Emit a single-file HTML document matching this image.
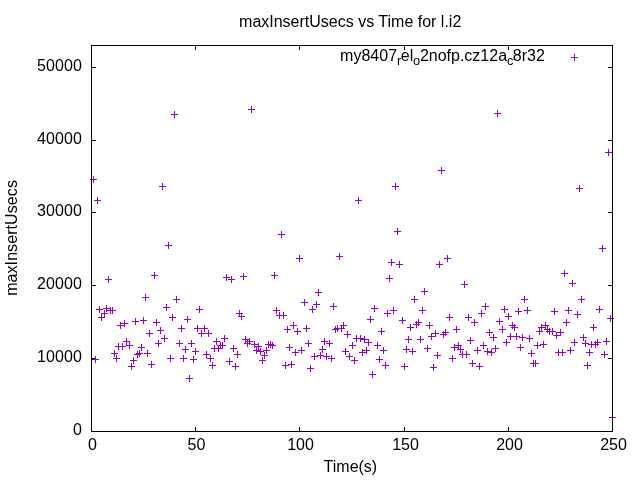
<!DOCTYPE html>
<html><head><meta charset="utf-8"><title>maxInsertUsecs vs Time for l.i2</title>
<style>
html,body{margin:0;padding:0;background:#fff;width:640px;height:480px;overflow:hidden}
svg{display:block;will-change:transform;transform:translateZ(0)}
text{font-family:"Liberation Sans",Arial,sans-serif;font-size:16px;fill:#000}
.ax{stroke:#000;stroke-width:1;fill:none}
.pt{stroke:#9400d3;stroke-width:1;fill:none;stroke-linecap:butt}
</style></head><body>
<svg width="640" height="480" viewBox="0 0 640 480">
<rect width="640" height="480" fill="#fff"/>
<g id="tics">
<path class="ax" d="M91.5 431.5h4.5M612.5 431.5h-4.5M91.5 358.5h4.5M612.5 358.5h-4.5M91.5 285.5h4.5M612.5 285.5h-4.5M91.5 212.5h4.5M612.5 212.5h-4.5M91.5 140.5h4.5M612.5 140.5h-4.5M91.5 67.5h4.5M612.5 67.5h-4.5M91.5 431.5v-4.5M91.5 45.5v4.5M195.5 431.5v-4.5M195.5 45.5v4.5M299.5 431.5v-4.5M299.5 45.5v4.5M404.5 431.5v-4.5M404.5 45.5v4.5M508.5 431.5v-4.5M508.5 45.5v4.5M612.5 431.5v-4.5M612.5 45.5v4.5"/>
</g>
<g id="ytics">
<text x="82.1" y="435.1" text-anchor="end" letter-spacing="0.14">0</text>
<text x="82.1" y="362.1" text-anchor="end" letter-spacing="0.14">10000</text>
<text x="82.1" y="289.1" text-anchor="end" letter-spacing="0.14">20000</text>
<text x="82.1" y="216.1" text-anchor="end" letter-spacing="0.14">30000</text>
<text x="82.1" y="144.1" text-anchor="end" letter-spacing="0.14">40000</text>
<text x="82.1" y="71.1" text-anchor="end" letter-spacing="0.14">50000</text>
</g>
<g id="xtics">
<text x="92.5" y="450.3" text-anchor="middle">0</text>
<text x="196.5" y="450.3" text-anchor="middle">50</text>
<text x="300.5" y="450.3" text-anchor="middle">100</text>
<text x="405.5" y="450.3" text-anchor="middle">150</text>
<text x="509.5" y="450.3" text-anchor="middle">200</text>
<text x="613.5" y="450.3" text-anchor="middle">250</text>
</g>
<g id="labels">
<text x="350.2" y="27" text-anchor="middle">maxInsertUsecs vs Time for l.i2</text>
<text x="350.4" y="471.5" text-anchor="middle">Time(s)</text>
<text transform="translate(17.1,237.95) rotate(-90)" text-anchor="middle" letter-spacing="0.08">maxInsertUsecs</text>
<text><tspan x="340.11" y="60.9">my8407</tspan><tspan x="396.93" y="64.8" font-size="12.8px">r</tspan><tspan x="400.80" y="60.9">el</tspan><tspan x="412.95" y="64.8" font-size="12.8px">o</tspan><tspan x="419.88" y="60.9">2nofp.cz12a</tspan><tspan x="507.06" y="64.8" font-size="12.8px">c</tspan><tspan x="512.77" y="60.9">8r32</tspan></text>
</g>
<g id="data">
<path class="pt" d="M571 57.5h7M574.5 54v7"/>
<path class="pt" d="M90 179.5h7M93.5 176v7M92 359.5h7M95.5 356v7M94 200.5h7M97.5 197v7M96 309.5h7M99.5 306v7M98 317.5h7M101.5 314v7M101 313.5h7M104.5 310v7M103 308.5h7M106.5 305v7M105 279.5h7M108.5 276v7M107 310.5h7M110.5 307v7M109 310.5h7M112.5 307v7M111 353.5h7M114.5 350v7M113 358.5h7M116.5 355v7M115 346.5h7M118.5 343v7M117 325.5h7M120.5 322v7M119 346.5h7M122.5 343v7M121 323.5h7M124.5 320v7M123 341.5h7M126.5 338v7M126 345.5h7M129.5 342v7M128 366.5h7M131.5 363v7M130 360.5h7M133.5 357v7M132 321.5h7M135.5 318v7M134 354.5h7M137.5 351v7M136 353.5h7M139.5 350v7M138 347.5h7M141.5 344v7M140 320.5h7M143.5 317v7"/>
<path class="pt" d="M142 297.5h7M145.5 294v7M144 353.5h7M147.5 350v7M146 333.5h7M149.5 330v7M148 364.5h7M151.5 361v7M151 275.5h7M154.5 272v7M153 322.5h7M156.5 319v7M155 343.5h7M158.5 340v7M157 330.5h7M160.5 327v7M159 186.5h7M162.5 183v7M161 338.5h7M164.5 335v7M163 307.5h7M166.5 304v7M165 245.5h7M168.5 242v7M167 358.5h7M170.5 355v7M169 317.5h7M172.5 314v7M171 114.5h7M174.5 111v7M173 299.5h7M176.5 296v7M176 343.5h7M179.5 340v7M178 328.5h7M181.5 325v7M180 358.5h7M183.5 355v7M182 349.5h7M185.5 346v7M184 319.5h7M187.5 316v7M186 378.5h7M189.5 375v7M188 343.5h7M191.5 340v7M190 359.5h7M193.5 356v7M192 351.5h7M195.5 348v7"/>
<path class="pt" d="M194 328.5h7M197.5 325v7M196 309.5h7M199.5 306v7M198 333.5h7M201.5 330v7M201 328.5h7M204.5 325v7M203 354.5h7M206.5 351v7M205 333.5h7M208.5 330v7M207 358.5h7M210.5 355v7M209 365.5h7M212.5 362v7M211 348.5h7M214.5 345v7M213 341.5h7M216.5 338v7M215 348.5h7M218.5 345v7M217 345.5h7M220.5 342v7M219 345.5h7M222.5 342v7M221 338.5h7M224.5 335v7M223 277.5h7M226.5 274v7M226 361.5h7M229.5 358v7M228 279.5h7M231.5 276v7M230 348.5h7M233.5 345v7M232 366.5h7M235.5 363v7M234 354.5h7M237.5 351v7M236 313.5h7M239.5 310v7M238 316.5h7M241.5 313v7M240 276.5h7M243.5 273v7M242 339.5h7M245.5 336v7M244 343.5h7M247.5 340v7"/>
<path class="pt" d="M246 341.5h7M249.5 338v7M248 109.5h7M251.5 106v7M251 344.5h7M254.5 341v7M253 350.5h7M256.5 347v7M255 346.5h7M258.5 343v7M257 351.5h7M260.5 348v7M259 360.5h7M262.5 357v7M261 355.5h7M264.5 352v7M263 350.5h7M266.5 347v7M265 344.5h7M268.5 341v7M267 344.5h7M270.5 341v7M269 345.5h7M272.5 342v7M271 275.5h7M274.5 272v7M273 310.5h7M276.5 307v7M276 315.5h7M279.5 312v7M278 234.5h7M281.5 231v7M280 315.5h7M283.5 312v7M282 365.5h7M285.5 362v7M284 329.5h7M287.5 326v7M286 347.5h7M289.5 344v7M288 364.5h7M291.5 361v7M290 325.5h7M293.5 322v7M292 352.5h7M295.5 349v7M294 331.5h7M297.5 328v7M296 258.5h7M299.5 255v7"/>
<path class="pt" d="M298 350.5h7M301.5 347v7M301 302.5h7M304.5 299v7M303 328.5h7M306.5 325v7M305 343.5h7M308.5 340v7M307 368.5h7M310.5 365v7M309 309.5h7M312.5 306v7M311 356.5h7M314.5 353v7M313 304.5h7M316.5 301v7M315 292.5h7M318.5 289v7M317 355.5h7M320.5 352v7M319 349.5h7M322.5 346v7M321 341.5h7M324.5 338v7M323 356.5h7M326.5 353v7M326 343.5h7M329.5 340v7M328 358.5h7M331.5 355v7M330 306.5h7M333.5 303v7M332 329.5h7M335.5 326v7M334 328.5h7M337.5 325v7M336 256.5h7M339.5 253v7M338 328.5h7M341.5 325v7M340 325.5h7M343.5 322v7M342 351.5h7M345.5 348v7M344 334.5h7M347.5 331v7M346 356.5h7M349.5 353v7M349 345.5h7M352.5 342v7"/>
<path class="pt" d="M351 360.5h7M354.5 357v7M353 338.5h7M356.5 335v7M355 200.5h7M358.5 197v7M357 338.5h7M360.5 335v7M359 352.5h7M362.5 349v7M361 339.5h7M364.5 336v7M363 350.5h7M366.5 347v7M365 342.5h7M368.5 339v7M367 319.5h7M370.5 316v7M369 374.5h7M372.5 371v7M371 308.5h7M374.5 305v7M374 345.5h7M377.5 342v7M376 359.5h7M379.5 356v7M378 331.5h7M381.5 328v7M380 350.5h7M383.5 347v7M382 365.5h7M385.5 362v7M384 313.5h7M387.5 310v7M386 278.5h7M389.5 275v7M388 262.5h7M391.5 259v7M390 310.5h7M393.5 307v7M392 186.5h7M395.5 183v7M394 231.5h7M397.5 228v7M396 264.5h7M399.5 261v7M399 320.5h7M402.5 317v7M401 366.5h7M404.5 363v7"/>
<path class="pt" d="M403 349.5h7M406.5 346v7M405 339.5h7M408.5 336v7M407 327.5h7M410.5 324v7M409 351.5h7M412.5 348v7M411 299.5h7M414.5 296v7M413 324.5h7M416.5 321v7M415 322.5h7M418.5 319v7M417 339.5h7M420.5 336v7M419 310.5h7M422.5 307v7M421 291.5h7M424.5 288v7M424 348.5h7M427.5 345v7M426 325.5h7M429.5 322v7M428 336.5h7M431.5 333v7M430 367.5h7M433.5 364v7M432 333.5h7M435.5 330v7M434 355.5h7M437.5 352v7M436 264.5h7M439.5 261v7M438 170.5h7M441.5 167v7M440 334.5h7M443.5 331v7M442 332.5h7M445.5 329v7M444 258.5h7M447.5 255v7M446 317.5h7M449.5 314v7M449 358.5h7M452.5 355v7M451 347.5h7M454.5 344v7M453 329.5h7M456.5 326v7"/>
<path class="pt" d="M455 345.5h7M458.5 342v7M457 349.5h7M460.5 346v7M459 354.5h7M462.5 351v7M461 284.5h7M464.5 281v7M463 354.5h7M466.5 351v7M465 317.5h7M468.5 314v7M467 340.5h7M470.5 337v7M469 363.5h7M472.5 360v7M471 322.5h7M474.5 319v7M474 350.5h7M477.5 347v7M476 366.5h7M479.5 363v7M478 313.5h7M481.5 310v7M480 345.5h7M483.5 342v7M482 306.5h7M485.5 303v7M484 351.5h7M487.5 348v7M486 332.5h7M489.5 329v7M488 352.5h7M491.5 349v7M490 337.5h7M493.5 334v7M492 348.5h7M495.5 345v7M494 113.5h7M497.5 110v7M496 321.5h7M499.5 318v7M499 329.5h7M502.5 326v7M501 309.5h7M504.5 306v7M503 342.5h7M506.5 339v7M505 316.5h7M508.5 313v7"/>
<path class="pt" d="M507 336.5h7M510.5 333v7M509 325.5h7M512.5 322v7M511 327.5h7M514.5 324v7M513 336.5h7M516.5 333v7M515 311.5h7M518.5 308v7M517 347.5h7M520.5 344v7M519 337.5h7M522.5 334v7M521 299.5h7M524.5 296v7M524 310.5h7M527.5 307v7M526 338.5h7M529.5 335v7M528 353.5h7M531.5 350v7M530 363.5h7M533.5 360v7M532 363.5h7M535.5 360v7M534 345.5h7M537.5 342v7M536 331.5h7M539.5 328v7M538 327.5h7M541.5 324v7M540 344.5h7M543.5 341v7M542 325.5h7M545.5 322v7M544 329.5h7M547.5 326v7M546 331.5h7M549.5 328v7M549 331.5h7M552.5 328v7M551 311.5h7M554.5 308v7M553 335.5h7M556.5 332v7M555 352.5h7M558.5 349v7M557 332.5h7M560.5 329v7"/>
<path class="pt" d="M559 352.5h7M562.5 349v7M561 273.5h7M564.5 270v7M563 322.5h7M566.5 319v7M565 310.5h7M568.5 307v7M567 350.5h7M570.5 347v7M569 283.5h7M572.5 280v7M571 342.5h7M574.5 339v7M574 314.5h7M577.5 311v7M576 188.5h7M579.5 185v7M578 299.5h7M581.5 296v7M580 337.5h7M583.5 334v7M582 343.5h7M585.5 340v7M584 365.5h7M587.5 362v7M586 352.5h7M589.5 349v7M588 344.5h7M591.5 341v7M590 327.5h7M593.5 324v7M592 344.5h7M595.5 341v7M594 342.5h7M597.5 339v7M596 309.5h7M599.5 306v7M599 248.5h7M602.5 245v7M601 354.5h7M604.5 351v7M603 341.5h7M606.5 338v7M605 152.5h7M608.5 149v7M607 318.5h7M610.5 315v7M609 417.5h7M612.5 414v7"/>
</g>
<g id="border">
<rect class="ax" x="91.5" y="45.5" width="521.0" height="386.0"/>
</g>
</svg></body></html>
